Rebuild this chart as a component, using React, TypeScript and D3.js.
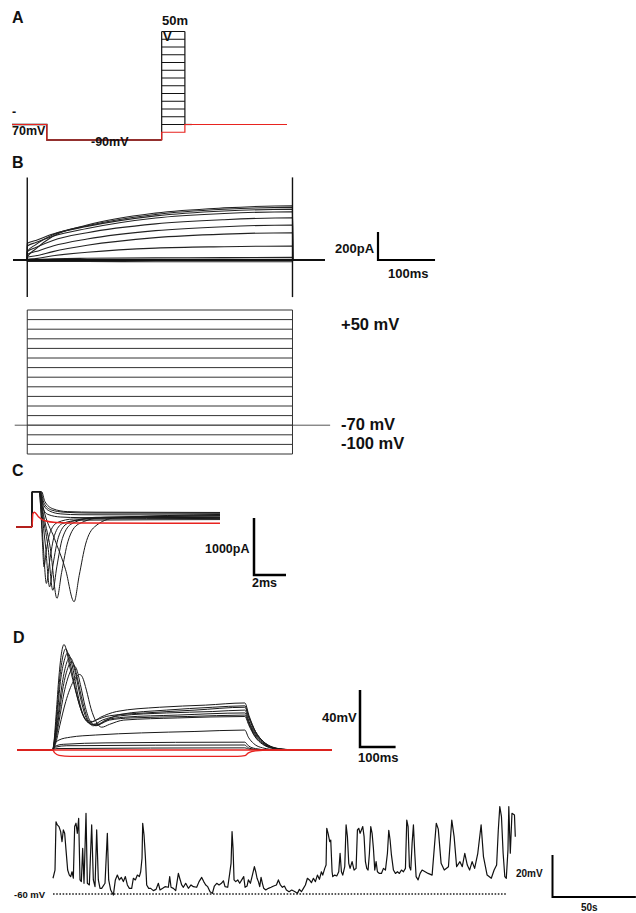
import * as d3 from 'd3'

const FONT = 'Liberation Sans, Arial, sans-serif'

// ---- A: step protocol (ms, mV)
const protoTimes = [0, 30, 129, 149, 237]   // start, prepulse, test on, test off, end
const protoLevels = [-70, -60, -50, -40, -30, -20, -10, 0, 10, 20, 30, 40, 50]
const holdMv = -70
const preMv = -90
const redTestMv = -80

// ---- B: outward K currents (ms, pA)
const kTimes = [25, 40, 70, 130, 250, 370, 490]
const kTraces = [
  [20, 80, 170, 250, 335, 372, 388],
  [60, 110, 180, 245, 325, 362, 376],
  [120, 140, 185, 240, 315, 350, 362],
  [100, 125, 170, 225, 300, 332, 345],
  [60, 90, 140, 195, 258, 288, 302],
  [40, 60, 100, 150, 210, 238, 250],
  [20, 30, 60, 105, 160, 185, 195],
  [5, 10, 30, 55, 85, 95, 100],
  [0, 5, 8, 12, 15, 17, 19],
  [0, 1, 2, 3, 4, 5, 5],
  [-10, -10, -11, -11, -12, -12, -12],
]
const kStepEdges = [25, 490]
const kArtifact = [590, -265]
const kVoltLevels = [-100, -90, -80, -70, -60, -50, -40, -30, -20, -10, 0, 10, 20, 30, 40, 50]

// ---- C: Na currents (ms, pA)
const naTraces = [
  [[0, 0], [0.98, 0], [1.02, 620], [1.45, 620], [1.55, 300], [1.65, -250], [1.75, -700], [1.9, -400], [2.15, -80], [2.6, 80], [3.6, 140], [12.75, 150]],
  [[0, 0], [0.98, 0], [1.02, 620], [1.45, 620], [1.55, 350], [1.7, -300], [1.9, -990], [2.1, -600], [2.4, -150], [2.9, 60], [4.0, 120], [12.75, 130]],
  [[0, 0], [0.98, 0], [1.02, 620], [1.48, 620], [1.6, 300], [1.85, -350], [2.1, -1050], [2.32, -650], [2.65, -180], [3.2, 60], [4.5, 150], [12.75, 170]],
  [[0, 0], [0.98, 0], [1.02, 620], [1.5, 620], [1.62, 320], [2.0, -350], [2.3, -1110], [2.55, -700], [2.9, -200], [3.5, 60], [5, 170], [12.75, 190]],
  [[0, 0], [0.98, 0], [1.02, 620], [1.5, 620], [1.65, 330], [2.15, -380], [2.56, -1250], [2.85, -800], [3.25, -250], [3.9, 50], [5.5, 170], [12.75, 200]],
  [[0, 0], [0.98, 0], [1.02, 620], [1.52, 620], [1.7, 350], [2.4, -200], [3.1, -750], [3.63, -1310], [3.95, -850], [4.35, -300], [4.9, 0], [6.2, 160], [12.75, 220]],
  [[0, 0], [0.98, 0], [1.02, 620], [1.5, 620], [1.7, 400], [2.1, 280], [2.8, 230], [4, 215], [12.75, 210]],
  [[0, 0], [0.98, 0], [1.02, 620], [1.55, 620], [1.75, 420], [2.2, 300], [3.0, 260], [4.5, 245], [12.75, 240]],
  [[0, 0], [0.98, 0], [1.02, 620], [1.6, 620], [1.8, 450], [2.3, 320], [3.2, 270], [5, 260], [12.75, 255]],
  [[0, 0], [0.98, 0], [1.02, 620], [1.45, 620], [1.6, 380], [2.0, 220], [2.8, 175], [4, 165], [12.75, 165]],
]
const naRed = [[0, 0], [1.0, 0], [1.05, 230], [1.15, 260], [1.4, 180], [1.8, 110], [2.5, 80], [4, 70], [12.75, 65]]

// ---- D: current-clamp responses (ms, mV)
const apTraces = [
  [[0, -70], [100, -70], [104, -64], [110, -45], [118, -18], [125, -2], [132, 4], [138, 1], [147, -10], [160, -24], [175, -38], [188, -47], [203, -51], [222, -49], [260, -46], [360, -44], [500, -42], [640, -40], [652, -48], [668, -57], [690, -64], [715, -68], [750, -69.6], [800, -70], [885, -70]],
  [[0, -70], [100, -70], [105, -63], [112, -44], [120, -20], [129, -4], [137, 1], [143, -2], [152, -12], [165, -28], [180, -42], [195, -49], [212, -50], [235, -47], [280, -43], [400, -40], [530, -38.5], [640, -37], [652, -46], [670, -57], [692, -64], [718, -68], [755, -69.6], [805, -70], [885, -70]],
  [[0, -70], [100, -70], [105, -64], [113, -46], [122, -22], [133, -7], [142, -2], [148, -4], [158, -14], [170, -30], [184, -44], [198, -50], [215, -52], [240, -49], [290, -46], [420, -44], [550, -43], [640, -42], [652, -50], [668, -58], [690, -64.5], [715, -68], [750, -69.6], [800, -70], [885, -70]],
  [[0, -70], [100, -70], [106, -64], [115, -47], [126, -25], [138, -10], [148, -5], [155, -7], [165, -17], [178, -33], [192, -46], [207, -52], [225, -52], [250, -49], [300, -47], [450, -45.5], [640, -44], [652, -51], [668, -59], [690, -65], [715, -68.3], [750, -69.7], [800, -70], [885, -70]],
  [[0, -70], [100, -70], [106, -65], [116, -49], [128, -28], [142, -13], [153, -8], [160, -10], [170, -20], [184, -36], [198, -48], [214, -53], [232, -52], [260, -49], [320, -47.5], [480, -46.5], [640, -45.5], [652, -52], [668, -60], [690, -65.5], [715, -68.5], [750, -69.7], [800, -70], [885, -70]],
  [[0, -70], [100, -70], [107, -65], [118, -50], [132, -30], [148, -16], [160, -11], [167, -13], [178, -24], [192, -40], [206, -50], [222, -53], [245, -50], [290, -45], [420, -42], [550, -40], [640, -39], [652, -47], [670, -57], [692, -64], [718, -68], [755, -69.6], [805, -70], [885, -70]],
  [[0, -70], [100, -70], [108, -66], [120, -53], [137, -36], [158, -22], [176, -17], [184, -19], [195, -28], [208, -41], [222, -50], [238, -54], [260, -52], [300, -49], [450, -47.5], [640, -46.5], [652, -53], [668, -60.5], [690, -66], [715, -68.7], [750, -69.8], [800, -70], [885, -70]],
]
const subTraces = [
  [[0, -70], [100, -70], [105, -66], [118, -63], [150, -61], [220, -59.5], [350, -58], [500, -57], [640, -56], [650, -61], [665, -65.5], [690, -68.5], [730, -69.8], [780, -70], [885, -70]],
  [[0, -70], [100, -70], [106, -67.5], [130, -66], [250, -65], [640, -64.5], [650, -67], [670, -69], [710, -70], [885, -70]],
  [[0, -70], [100, -70], [108, -68], [140, -67], [640, -66.5], [650, -68.5], [680, -69.8], [885, -70]],
  [[0, -70], [100, -70], [110, -69], [640, -68.5], [655, -69.6], [885, -70]],
]
const hyperRed = [[0, -70], [100, -70], [106, -72], [118, -73.8], [150, -74.5], [620, -74.5], [640, -74], [650, -72], [670, -70.6], [710, -70], [885, -70]]

// ---- spontaneous activity (s, mV)
const spont = [
  [0, -52.5], [1.2, -48.6], [1.8, -25.6], [2.6, -27.1], [3.6, -27.9], [4.6, -30.3], [5.4, -35.1], [6.2, -29.5], [7.0, -31.1], [7.8, -39], [8.8, -48.6], [9.8, -51], [10.6, -51.7], [11.4, -49.4], [12.2, -52.5], [13, -27.9], [13.8, -26.3], [14.6, -31.1], [15.4, -24], [16.2, -53.3], [17, -54.1], [17.8, -38.3], [18.6, -54.9], [19.8, -21.6], [20.6, -54.9], [21.8, -55.7], [23.2, -27.1], [24.2, -53.3], [25.2, -56.5], [26.2, -29.5], [27.2, -53.3], [28.2, -57.3], [29.2, -57.3], [31.2, -54.9], [32.6, -31.1], [33.4, -53.3], [34.6, -58.1], [36.2, -60.5], [37.4, -53.3], [38.6, -51], [39.8, -53.3], [41, -52.1], [42.2, -54.1], [43.4, -51.7], [44.6, -55.7], [45.8, -57.3], [47.2, -57.3], [48.2, -52.5], [49.4, -53.3], [50.6, -51], [51.8, -51.7], [52.6, -49.4], [53.4, -43], [53.8, -26.3], [54.6, -31.9], [55.4, -42.2], [56.2, -55.7], [57.4, -57.3], [58.6, -57.3], [60.2, -58.4], [61.8, -57.8], [63.2, -54.9], [64.2, -58.1], [65.8, -57.3], [67.2, -56.5],
  [69.2, -56.8], [70, -51.7], [70.8, -56.8], [72.2, -57.3], [73.6, -58.4], [75.2, -50.2], [76, -52.5], [77.2, -55.7], [78.2, -56.8], [79.6, -54.9], [81.2, -57.3], [82.8, -55.7], [84.2, -56.5], [86.2, -56.8], [87.6, -54.1], [89.2, -52.1], [90.4, -54.1], [91.6, -55.7], [92.8, -56.5], [94.2, -58.9], [95.6, -59.7], [96.8, -56.2], [98.2, -54.9], [99.6, -55.7], [101, -54.9], [102.2, -53.7], [103.2, -56.5], [104.8, -56.8], [106, -50.2], [106.8, -45.4], [107.4, -30.3], [108, -38.3], [108.6, -53.3], [109.6, -54.1], [110.8, -53.3], [112, -54.9], [113.2, -53.3], [114.4, -51.7], [115.2, -56.8], [116.4, -56.2], [117.2, -53.3], [118.4, -54.9], [119.6, -51], [120.8, -47], [121.6, -49.4], [122.4, -52.5], [123.2, -54.1], [124, -56.5], [124.8, -52.1], [125.6, -54.9], [126.4, -57.3], [127.6, -58.1], [129.2, -57.3], [130.8, -56.8], [132.4, -56.2], [134, -55.7], [135.2, -53.3], [136.4, -55.7], [137.6, -56.8], [138.8, -56.2], [140, -58.1], [141.6, -58.9], [143.2, -58.1],
  [145.2, -58.9], [146.6, -59.7], [147.8, -57.8], [149, -58.9], [150.2, -57.3], [151.4, -55.7], [152.6, -52.5], [153.8, -53.3], [155, -54.6], [156.2, -52.5], [157.4, -54.1], [158.6, -51], [159.8, -53], [161, -49.4], [161.8, -51], [163, -47.8], [163.8, -46.2], [164.2, -28.7], [165, -31.1], [166, -35.1], [166.6, -34.3], [167.4, -49.4], [167.8, -51.7], [169, -51], [170.2, -51.4], [171.4, -49.4], [172.2, -40.6], [173, -49.4], [173.8, -51], [175, -47], [175.8, -27.1], [176.6, -32.7], [177.4, -45.4], [178.2, -47.8], [179.4, -44.6], [180.6, -48.6], [181.8, -47.8], [182.6, -29.5], [183.4, -28.7], [184.2, -31.1], [185, -29.5], [185.8, -27.9], [186.6, -32.7], [187.4, -44.6], [188.2, -47.8], [189, -48.6], [189.8, -40.6], [190.6, -27.9], [191.4, -31.1], [192.2, -38.3], [193, -48.6], [193.8, -44.6], [194.6, -49.4], [195.8, -50.2], [197, -50.2], [198.2, -47.8], [199.4, -48.6], [200.6, -40.6], [201.4, -29.7], [202.2, -34.3], [203, -41.4], [204.2, -48.6], [205.4, -50.2], [206.6, -49.4], [207.8, -50.2], [209, -48.6], [210.2, -49.4], [211.4, -47.8], [212.2, -24.8], [213, -27.9], [213.8, -47], [214.6, -48.6], [215.4, -35.9], [216.2, -27.1], [217, -40.6], [217.8, -51.7], [219, -53.3], [220.2, -50.2], [221.4, -48.6],
  [225, -50.2], [227.4, -51], [229.9, -26.3], [231.1, -29.1], [232.8, -45.4], [234.7, -48.6], [237.2, -47], [239.2, -24.8], [240.6, -32.7], [242.1, -47], [244.1, -44.6], [245.5, -47], [247, -40.6], [248.5, -46.2], [249.9, -48.6], [251.4, -44.6], [252.9, -47.8], [254.8, -40.6], [256.8, -27.1], [258.2, -42.2], [260.4, -51], [262.9, -52.5], [264.6, -48.6], [266.1, -46.2], [267.1, -29.5], [268, -18.4], [269, -23.2], [270, -40.6], [271, -51.7], [271.9, -52.5], [272.9, -39], [273.4, -18.4], [274.3, -40.6], [275.3, -21.6], [276.8, -22.4], [277.3, -32.7],
]
const restMv = -60

const Txt = ({ x, y, size, children, anchor = 'start' }: any) => (
  <text x={x} y={y} fontSize={size} fontWeight="bold" fontFamily={FONT} textAnchor={anchor} fill="#111">{children}</text>
)

export default function App() {
  // A
  const xA = d3.scaleLinear().domain([0, 237]).range([12, 287])
  const yA = d3.scaleLinear().domain([-90, 50]).range([140, 31.5])
  const lineA = d3.line<number[]>().x(d => xA(d[0])).y(d => yA(d[1]))
  const [tStart, tPre, tOn, tOff, tEnd] = protoTimes
  const blackA = [[tStart, holdMv], [tPre, holdMv], [tPre, preMv], [tOn, preMv]]
  const redA = [[tStart, holdMv], [tPre, holdMv], [tPre, preMv], [tOn, preMv], [tOn, redTestMv], [tOff, redTestMv], [tOff, holdMv], [tEnd, holdMv]]
  const topMv = protoLevels[protoLevels.length - 1]

  // B
  const xB = d3.scaleLinear().domain([0, 547]).range([13, 325])
  const yB = d3.scaleLinear().domain([0, 200]).range([260, 232])
  const yBv = d3.scaleLinear().domain([-100, 50]).range([454, 310])
  const lineB = d3.line<number[]>().x(d => xB(d[0])).y(d => yB(d[1])).curve(d3.curveMonotoneX)

  // C
  const xC = d3.scaleLinear().domain([0, 12.75]).range([16, 220])
  const yC = d3.scaleLinear().domain([0, 1000]).range([527, 470])
  const lineC = d3.line<number[]>().x(d => xC(d[0])).y(d => yC(d[1])).curve(d3.curveMonotoneX)

  // D
  const xD = d3.scaleLinear().domain([0, 885]).range([17, 332])
  const yD = d3.scaleLinear().domain([-70, -30]).range([750, 693])
  const lineD = d3.line<number[]>().x(d => xD(d[0])).y(d => yD(d[1])).curve(d3.curveMonotoneX)

  // spontaneous
  const xE = d3.scaleLinear().domain([0, 277.3]).range([53, 515.3])
  const yE = d3.scaleLinear().domain([-60, -40]).range([894, 852])
  const lineE = d3.line<number[]>().x(d => xE(d[0])).y(d => yE(d[1]))

  const bar = { stroke: '#000', strokeWidth: 2.2, fill: 'none' }

  return (
    <svg width={636} height={913} style={{ position: 'absolute', left: 0, top: 0, background: '#fff' }}>
      {/* ---------- A ---------- */}
      <Txt x={12} y={23} size={16}>A</Txt>
      <path d={lineA(blackA) ?? ''} fill="none" stroke="#000" strokeWidth={1.3} />
      {protoLevels.map(v => (
        <line key={v} x1={xA(tOn)} x2={xA(tOff)} y1={yA(v)} y2={yA(v)} stroke="#111" strokeWidth={1} />
      ))}
      <line x1={xA(tOn)} x2={xA(tOn)} y1={yA(preMv)} y2={yA(topMv)} stroke="#111" strokeWidth={1.2} />
      <line x1={xA(tOff)} x2={xA(tOff)} y1={yA(topMv)} y2={yA(holdMv)} stroke="#111" strokeWidth={1.2} />
      <line x1={xA(tOff)} x2={xA(tOff + 6)} y1={yA(holdMv)} y2={yA(holdMv)} stroke="#111" strokeWidth={1.2} />
      <path d={lineA(redA) ?? ''} fill="none" stroke="#e8231f" strokeWidth={1.2} />
      <Txt x={12} y={116} size={12.5}>-</Txt>
      <Txt x={12} y={135} size={12.5}>70mV</Txt>
      <Txt x={91} y={146} size={12.5}>-90mV</Txt>
      <Txt x={162} y={25} size={13}>50m</Txt>
      <Txt x={163} y={41} size={13}>V</Txt>

      {/* ---------- B ---------- */}
      <Txt x={12} y={168} size={16}>B</Txt>
      {kTraces.map((vals, i) => {
        const pts = [[0, 0], [kStepEdges[0] - 0.4, 0], ...kTimes.map((t, j) => [t, vals[j]]), [kStepEdges[1] + 0.4, 0], [547, 0]]
        return <path key={i} d={lineB(pts) ?? ''} fill="none" stroke="#222" strokeWidth={1.1} />
      })}
      {kStepEdges.map(t => (
        <line key={t} x1={xB(t)} x2={xB(t)} y1={yB(kArtifact[0])} y2={yB(kArtifact[1])} stroke="#111" strokeWidth={1.4} />
      ))}
      <line x1={xB(0)} x2={xB(547)} y1={yB(0)} y2={yB(0)} stroke="#111" strokeWidth={2} />
      <path d={`M${xB(0) + 365},${yB(200)}V${yB(0)}H${xB(100) + 365}`} {...bar} />
      <Txt x={335} y={253} size={13}>200pA</Txt>
      <Txt x={388} y={278} size={13}>100ms</Txt>

      {kVoltLevels.map(v => (
        <line key={v} x1={xB(kStepEdges[0])} x2={xB(kStepEdges[1])} y1={yBv(v)} y2={yBv(v)} stroke="#333" strokeWidth={1} />
      ))}
      <line x1={xB(3)} x2={xB(556)} y1={yBv(-70)} y2={yBv(-70)} stroke="#555" strokeWidth={1} />
      {kStepEdges.map(t => (
        <line key={t} x1={xB(t)} x2={xB(t)} y1={yBv(-100)} y2={yBv(50)} stroke="#333" strokeWidth={1} />
      ))}
      <Txt x={341} y={330} size={16.5}>+50 mV</Txt>
      <Txt x={341} y={430} size={16.5}>-70 mV</Txt>
      <Txt x={341} y={449} size={16.5}>-100 mV</Txt>

      {/* ---------- C ---------- */}
      <Txt x={12} y={476} size={16}>C</Txt>
      {naTraces.map((tr, i) => (
        <path key={i} d={lineC(tr) ?? ''} fill="none" stroke="#1a1a1a" strokeWidth={1} />
      ))}
      <path d={lineC(naRed) ?? ''} fill="none" stroke="#e8231f" strokeWidth={1.5} />
      <path d={`M254,${yC(1000) + 48}V${yC(0) + 48}H${254 + xC(2) - xC(0)}`} {...bar} strokeWidth={2.5} />
      <Txt x={205} y={553} size={12.5}>1000pA</Txt>
      <Txt x={252} y={587} size={12.5}>2ms</Txt>

      {/* ---------- D ---------- */}
      <Txt x={13} y={643} size={16}>D</Txt>
      {subTraces.map((tr, i) => (
        <path key={i} d={lineD(tr) ?? ''} fill="none" stroke="#1a1a1a" strokeWidth={1} />
      ))}
      {apTraces.map((tr, i) => (
        <path key={i} d={lineD(tr) ?? ''} fill="none" stroke="#1a1a1a" strokeWidth={1} />
      ))}
      <path d={lineD(hyperRed) ?? ''} fill="none" stroke="#e8231f" strokeWidth={1.3} />
      <line x1={xD(0)} x2={xD(885)} y1={yD(-70)} y2={yD(-70)} stroke="#e8231f" strokeWidth={1.5} />
      <path d={`M360,${yD(-30) - 3}V${yD(-70) - 3}H${360 + xD(100) - xD(0)}`} {...bar} strokeWidth={2.5} />
      <Txt x={322} y={722} size={13}>40mV</Txt>
      <Txt x={358} y={762} size={13}>100ms</Txt>

      {/* ---------- spontaneous ---------- */}
      <line x1={xE(0)} x2={507} y1={yE(restMv)} y2={yE(restMv)} stroke="#222" strokeWidth={1.6} strokeDasharray="1.6,1.6" />
      <path d={lineE(spont) ?? ''} fill="none" stroke="#111" strokeWidth={1.2} strokeLinejoin="round" />
      <Txt x={14} y={898} size={9.5}>-60 mV</Txt>
      <path d={`M552.5,${yE(-40) + 3}V${yE(-60) + 3}H${552.5 + xE(50) - xE(0)}`} {...bar} strokeWidth={2} />
      <Txt x={516} y={877} size={10}>20mV</Txt>
      <Txt x={581} y={911} size={10}>50s</Txt>
    </svg>
  )
}
